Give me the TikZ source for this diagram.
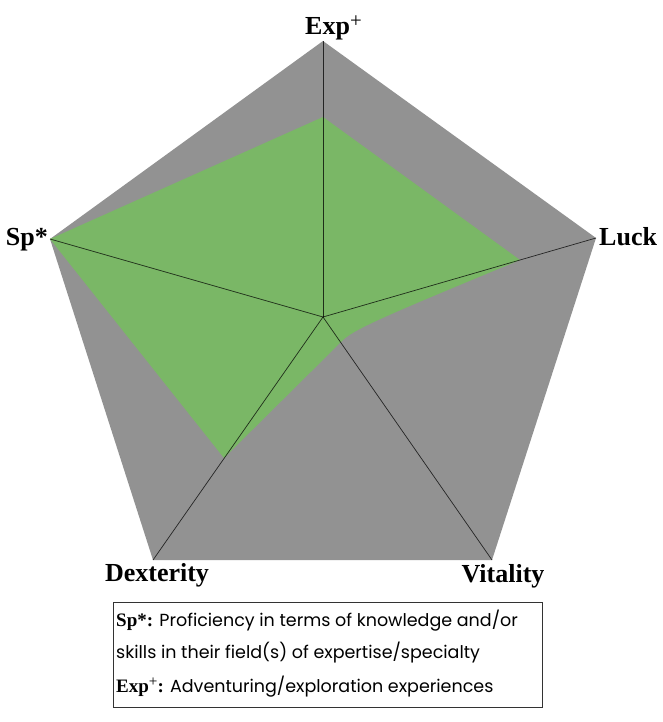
\documentclass[tikz,border=0pt]{standalone}
\usepackage{fontspec}
\setmainfont{Poppins}
\newfontfamily\labelfont{Liberation Serif}
\definecolor{chartgray}{RGB}{146,146,146}
\definecolor{chartgreen}{RGB}{122,183,102}
\tikzset{
  axislabel/.style={font=\labelfont\bfseries\fontsize{26}{30}\selectfont, inner sep=0pt},
  spoke/.style={black, opacity=0.75, line width=0.7pt},
  legendbox/.style={draw=black!80, line width=0.9pt, inner sep=0pt, anchor=north west},
  legendline/.style={font=\fontsize{17.5}{20}\selectfont, inner sep=0pt, anchor=base west}
}
\newcommand{\legendkey}[1]{{\labelfont\bfseries\fontsize{19}{20}\selectfont #1}}
\newcommand{\plusmark}{\raisebox{0.3em}{\fontsize{0.8em}{0.8em}\selectfont\mdseries +}}

\begin{document}
\begin{tikzpicture}[x=1pt, y=-1pt]
  \useasboundingbox (0, 0) rectangle (662, 722);
  % Chart outline points
  \coordinate (centre) at (323, 317);
  \coordinate (exp) at (323, 41);
  \coordinate (luck) at (596, 238);
  \coordinate (vitality) at (492, 560);
  \coordinate (dexterity) at (153, 560);
  \coordinate (sp) at (50, 239);
  % Scores
  \coordinate (expval) at (323, 117);
  \coordinate (luckval) at (520, 260);
  \coordinate (vitalityval) at (341, 342);
  \coordinate (dexterityval) at (224, 458);
  \coordinate (spval) at (50, 239);
  % Background pentagon
  \fill[chartgray] (exp) -- (luck) -- (vitality) -- (dexterity) -- (sp) -- cycle;
  % Score area
  \fill[chartgreen] (expval) -- (luckval) .. controls (380, 318) and (352, 330) .. (vitalityval)
    -- (dexterityval) -- (spval) -- cycle;
  % Spokes
  \foreach \corner in {exp, luck, vitality, dexterity, sp}
    \draw[spoke] (centre) -- (\corner);
  % Axis labels
  \node[axislabel, anchor=base west] (explabel) at (305, 35) {Exp\plusmark};
  \node[axislabel, anchor=base west] (lucklabel) at (599, 245) {Luck};
  \node[axislabel, anchor=base east] (splabel) at (48, 245) {Sp*};
  \node[axislabel, anchor=base] (dexteritylabel) at (157, 581) {Dexterity};
  \node[axislabel, anchor=base] (vitalitylabel) at (503, 582) {Vitality};
  % Legend
  \node[legendbox, minimum width=429, minimum height=105] (legend) at (113, 602) {};
  \node[legendline] (legendsp) at (116, 626) {\legendkey{Sp*:} Proficiency in terms of knowledge and/or};
  \node[legendline] (legendspmore) at (116, 658) {skills in their field(s) of expertise/specialty};
  \node[legendline] (legendexp) at (116, 692) {\legendkey{Exp\plusmark:} Adventuring/exploration experiences};
\end{tikzpicture}
\end{document}
